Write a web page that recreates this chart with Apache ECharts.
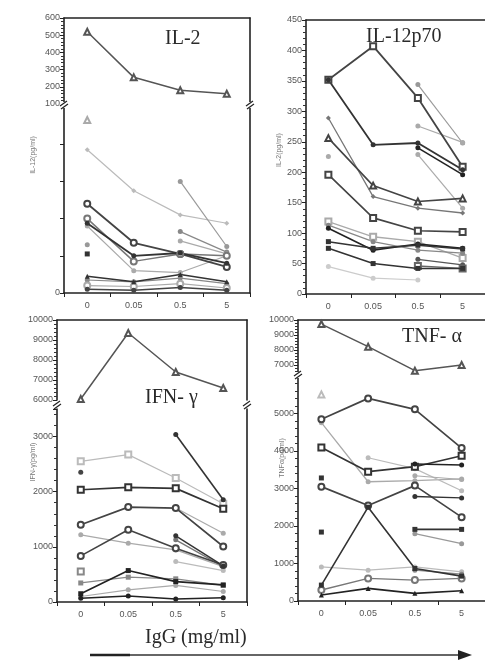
<!DOCTYPE html>
<html><head><meta charset="utf-8">
<script src="https://cdn.jsdelivr.net/npm/echarts@6/dist/echarts.min.js"></script>
<style>html,body{margin:0;padding:0;background:#fff}#c{width:485px;height:660px}</style>
</head><body><div id="c"></div>
<script>
// ---------- data ----------
const doses = ['0', '0.05', '0.5', '5'];

// IL-2 (upper segment 100-600, lower segment 0-100)
const il2High = [[520, 255, 180, 160]];
const il2Low = [
  [93, null, null, null],
  [77, 55, 42, 37.5],
  [null, null, 60, 25],
  [48, 27, 21, 14],
  [40, 17, 21, 20],
  [37.5, 20, 21.5, 16],
  [36, 12, 11, 20],
  [26, null, null, null],
  [21, null, null, null],
  [null, null, 33, 22],
  [null, null, 28, 21],
  [9, 6, 10, 6],
  [7, 6, 8, 5],
  [4, 3.5, 5, 2.7],
  [2, 1.5, 3, 1.5]
];

// IL-12p70 (0-450)
const il12 = [
  [352, 407, 322, 209],
  [352, 245, 248, 204],
  [null, null, 344, 248],
  [null, null, 276, 249],
  [null, null, 240, 196],
  [289, 160, 141, 133],
  [256, 178, 152, 157],
  [null, null, 229, 141],
  [226, null, null, null],
  [196, 125, 104, 102],
  [119, 94, 86, 59],
  [108, 72, 82, 75],
  [113, 86, 72, 67],
  [86, 75, 80, 74],
  [75, 50, 42, 42],
  [null, null, 57, 48],
  [null, null, 46, 42],
  [45, 26, 23, null]
];

// IFN-gamma (upper 6000-10000, lower 0-3500)
const ifnHigh = [[6050, 9350, 7400, 6600]];
const ifnLow = [
  [null, null, 3036, 1855],
  [2551, 2673, 2250, 1780],
  [2352, null, null, null],
  [2036, 2079, 2061, 1691],
  [1400, 1721, 1703, 1006],
  [null, null, 1703, 1248],
  [1218, 1067, 945, 642],
  [836, 1309, 976, 673],
  [null, null, 1200, 655],
  [null, null, 1127, 642],
  [null, null, 733, 570],
  [552, null, null, null],
  [345, 450, 420, 300],
  [150, 570, 370, 310],
  [100, 220, 300, 190],
  [67, 109, 55, 79]
];

// TNF-alpha (upper 6400-10000, lower 0-6000)
const tnfHigh = [[9730, 8220, 6620, 7000]];
const tnfLow = [
  [5509, null, null, null],
  [4846, 5403, 5111, 4077],
  [4756, 3180, 3210, 3254],
  [4093, 3448, 3581, 3873],
  [null, null, 3652, 3626],
  [null, 3820, 3530, 2940],
  [null, null, 3340, 3240],
  [3281, null, null, null],
  [3050, 2546, 3077, 2236],
  [null, null, 2785, 2750],
  [424, 2501, 867, 663],
  [1838, null, null, null],
  [null, null, 1910, 1910],
  [null, null, 1796, 1530],
  [910, 822, 910, 778],
  [292, 602, 557, 602],
  [null, null, 822, 716],
  [159, 336, 204, 274]
];

// ---------- styles (symbol, colour, line width) ----------
const il2HighStyle = [['emptyTriangle', '#555', 1.5]];
const il2LowStyle = [
  ['emptyTriangle', '#aaa', 1], ['diamond', '#bbb', 1.2], ['circle', '#999', 1.2],
  ['emptyCircle', '#444', 1.8], ['emptyCircle', '#777', 1.5], ['circle', '#333', 1.8],
  ['circle', '#aaa', 1.2], ['circle', '#999', 1], ['rect', '#333', 1],
  ['circle', '#888', 1.2], ['circle', '#aaa', 1.2], ['triangle', '#333', 1.5],
  ['circle', '#888', 1.2], ['emptyCircle', '#aaa', 1.2], ['circle', '#444', 1.5]
];
const il12Style = [
  ['emptyRect', '#444', 1.8], ['circle', '#333', 1.8], ['circle', '#999', 1.2],
  ['circle', '#aaa', 1.2], ['circle', '#222', 1.6], ['diamond', '#777', 1.3],
  ['emptyTriangle', '#444', 1.6], ['circle', '#aaa', 1.2], ['circle', '#aaa', 1],
  ['emptyRect', '#444', 1.6], ['emptyRect', '#aaa', 1.3], ['circle', '#222', 1.6],
  ['circle', '#888', 1.3], ['rect', '#333', 1.5], ['rect', '#333', 1.6],
  ['circle', '#555', 1.3], ['emptyRect', '#666', 1.3], ['circle', '#ccc', 1.2]
];
const ifnHighStyle = [['emptyTriangle', '#555', 1.5]];
const ifnLowStyle = [
  ['circle', '#333', 1.6], ['emptyRect', '#bbb', 1.2], ['circle', '#444', 1],
  ['emptyRect', '#333', 1.7], ['emptyCircle', '#444', 1.7], ['circle', '#aaa', 1.2],
  ['circle', '#aaa', 1.2], ['emptyCircle', '#444', 1.6], ['circle', '#333', 1.5],
  ['circle', '#777', 1.3], ['circle', '#bbb', 1.2], ['emptyRect', '#888', 1],
  ['rect', '#888', 1.3], ['rect', '#222', 1.6], ['circle', '#aaa', 1.2],
  ['circle', '#222', 1.5]
];
const tnfHighStyle = [['emptyTriangle', '#555', 1.5]];
const tnfLowStyle = [
  ['emptyTriangle', '#bbb', 1], ['emptyCircle', '#444', 1.7], ['circle', '#aaa', 1.3],
  ['emptyRect', '#333', 1.7], ['circle', '#222', 1.6], ['circle', '#bbb', 1.2],
  ['circle', '#aaa', 1.2], ['rect', '#333', 1], ['emptyCircle', '#444', 1.7],
  ['circle', '#333', 1.5], ['rect', '#333', 1.6], ['rect', '#333', 1],
  ['rect', '#333', 1.6], ['circle', '#999', 1.2], ['circle', '#bbb', 1.2],
  ['emptyCircle', '#777', 1.4], ['circle', '#888', 1.2], ['triangle', '#222', 1.6]
];

// ---------- chart ----------
const AX = '#222';
const plain = v => String(v);
const LBL = { fontSize: 9, color: '#555', fontFamily: 'Liberation Sans', formatter: plain };

const grids = [
  { left: 64, top: 18, width: 186, height: 86 },    // 0 IL-2 upper
  { left: 64, top: 107, width: 186, height: 186 },  // 1 IL-2 lower
  { left: 306, top: 20, width: 188, height: 274 },  // 2 IL-12
  { left: 57, top: 320, width: 190, height: 80 },   // 3 IFN upper
  { left: 57, top: 409, width: 190, height: 193 },  // 4 IFN lower
  { left: 298, top: 320, width: 192, height: 54 },  // 5 TNF upper
  { left: 298, top: 376, width: 192, height: 225 }  // 6 TNF lower
];

function xBottom(g) {
  return { type: 'category', gridIndex: g, data: doses, boundaryGap: true, position: 'bottom',
    axisLine: { lineStyle: { color: AX, width: 1.6 } },
    axisTick: { show: true, length: 4, lineStyle: { color: AX } },
    axisLabel: { margin: 8, fontSize: 9, color: '#555', fontFamily: 'Liberation Sans' }, splitLine: { show: false } };
}
function xTop(g) {
  return { type: 'category', gridIndex: g, data: doses, boundaryGap: true, position: 'top',
    axisLine: { lineStyle: { color: AX, width: 1.6 } },
    axisTick: { show: false }, axisLabel: { show: false }, splitLine: { show: false } };
}
function yLeft(g, min, max, interval, extra) {
  const a = { type: 'value', gridIndex: g, min: min, max: max, position: 'left',
    axisLine: { show: true, lineStyle: { color: AX, width: 1.6 } },
    axisTick: { show: true, length: 4, lineStyle: { color: AX } },
    minorTick: { show: true, splitNumber: 5, length: 3, lineStyle: { color: '#333' } },
    axisLabel: Object.assign({ margin: 4 }, LBL), splitLine: { show: false } };
  if (interval != null) a.interval = interval;
  return Object.assign(a, extra || {});
}
function yRight(g, min, max) {
  return { type: 'value', gridIndex: g, min: min, max: max, position: 'right',
    axisLine: { show: true, lineStyle: { color: AX, width: 1.6 } },
    axisTick: { show: false }, axisLabel: { show: false }, splitLine: { show: false } };
}

const xAxes = [xTop(0), xBottom(1), xBottom(2), xTop(2), xTop(3), xBottom(4), xTop(5), xBottom(6)];
const yAxes = [
  yLeft(0, 100, 600, 100),
  yLeft(1, 0, 100, 20, { minorTick: { show: false }, axisLabel: Object.assign({}, LBL, { margin: 4, formatter: v => v === 0 ? '0' : '' }) }),
  yLeft(2, 0, 450, 50),
  yLeft(3, 6000, 10000, 1000),
  yLeft(4, 0, 3500, 1000, { axisLabel: Object.assign({ margin: 4, showMaxLabel: false }, LBL) }),
  yLeft(5, 6400, 10000, null, { splitNumber: 4, axisLabel: Object.assign({ margin: 4, showMinLabel: false }, LBL) }),
  yLeft(6, 0, 6000, 1000, { axisLabel: Object.assign({ margin: 4, showMaxLabel: false }, LBL) }),
  yRight(0, 100, 600), yRight(1, 0, 100), yRight(3, 6000, 10000), yRight(4, 0, 3500)
];

const series = [];
function addRows(rows, styles, xi, yi) {
  rows.forEach((r, i) => {
    const st = styles[i];
    series.push({
      type: 'line', xAxisIndex: xi, yAxisIndex: yi, data: r,
      symbol: st[0], symbolSize: st[0].indexOf('empty') === 0 ? 6 : 5,
      lineStyle: { color: st[1], width: st[2] },
      itemStyle: { color: st[1], borderWidth: 1.2 },
      connectNulls: false, silent: true, animation: false, z: st[2] > 1.4 ? 3 : 2
    });
  });
}
addRows(il2High, il2HighStyle, 0, 0);
addRows(il2Low, il2LowStyle, 1, 1);
addRows(il12, il12Style, 2, 2);
addRows(ifnHigh, ifnHighStyle, 4, 3);
addRows(ifnLow, ifnLowStyle, 5, 4);
addRows(tnfHigh, tnfHighStyle, 6, 5);
addRows(tnfLow, tnfLowStyle, 7, 6);

const TITLE = { fontFamily: 'Liberation Serif', fontSize: 20, fill: '#2a2a2a' };
function txt(x, y, s, st) { return { type: 'text', x: x, y: y, z: 20, style: Object.assign({ text: s }, st) }; }
function ylab(x, y, s) {
  return { type: 'text', x: x, y: y, rotation: Math.PI / 2,
    style: { text: s, fontSize: 7, fill: '#777', fontFamily: 'Liberation Sans', align: 'center', verticalAlign: 'middle' } };
}
function brk(x, y) {
  return { type: 'group', children: [
    { type: 'rect', shape: { x: x - 4, y: y - 3, width: 8, height: 6 }, style: { fill: '#fff' }, z: 10 },
    { type: 'line', shape: { x1: x - 4, y1: y + 1, x2: x + 3, y2: y - 4 }, style: { stroke: AX, lineWidth: 1.2 }, z: 11 },
    { type: 'line', shape: { x1: x - 3, y1: y + 4, x2: x + 4, y2: y - 1 }, style: { stroke: AX, lineWidth: 1.2 }, z: 11 }
  ] };
}

const graphic = [
  txt(165, 29, 'IL-2', TITLE),
  txt(366, 27, 'IL-12p70', TITLE),
  txt(145, 388, 'IFN- γ', TITLE),
  txt(402, 327, 'TNF- α', TITLE),
  txt(145, 628, 'IgG (mg/ml)', { fontFamily: 'Liberation Serif', fontSize: 20, fill: '#2a2a2a' }),
  ylab(33, 155, 'IL-12(pg/ml)'),
  ylab(279, 150, 'IL-2(pg/ml)'),
  ylab(33, 462, 'IFN-γ(pg/ml)'),
  ylab(282, 458, 'TNFα(pg/ml)'),
  brk(64, 105), brk(250, 105), brk(57, 405), brk(247, 405), brk(298, 375),
  { type: 'line', shape: { x1: 90, y1: 655, x2: 466, y2: 655 }, style: { stroke: '#333', lineWidth: 1.3 } },
  { type: 'line', shape: { x1: 90, y1: 655, x2: 130, y2: 655 }, style: { stroke: '#222', lineWidth: 2.4 } },
  { type: 'polygon', shape: { points: [[458, 650], [472, 655], [458, 660]] }, style: { fill: '#222' } }
];

const chart = echarts.init(document.getElementById('c'), null, { renderer: 'canvas' });
chart.setOption({
  backgroundColor: '#ffffff',
  animation: false,
  grid: grids,
  xAxis: xAxes,
  yAxis: yAxes,
  series: series,
  graphic: graphic
});
</script>
</body></html>
